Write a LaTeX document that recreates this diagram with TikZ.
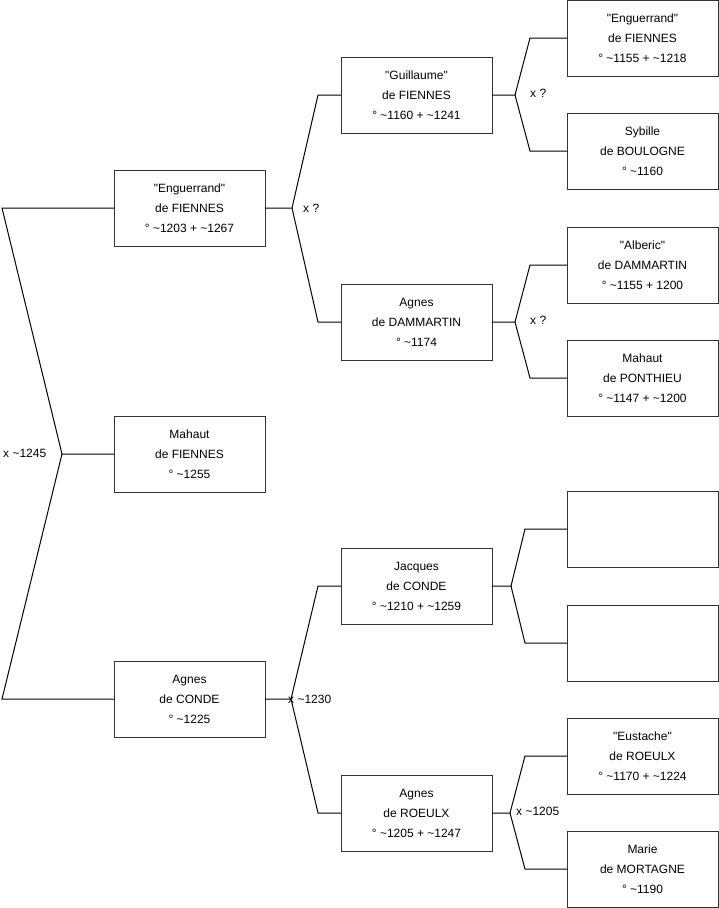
\documentclass[tikz,border=0pt]{standalone}
\usepackage{fontspec}
\setmainfont{Liberation Sans}
\usetikzlibrary{positioning}
\newcommand{\tld}{\textasciitilde}
\newcommand{\qd}{\textquotedbl}

\begin{document}
\begin{tikzpicture}[x=1pt,y=-1pt]
\tikzset{
  pb/.style={rectangle,draw=black!80,fill=white,minimum width=151pt,minimum height=76pt,inner sep=0pt,align=center,font=\fontsize{12}{20}\selectfont},
  ln/.style={draw=black,line width=1pt},
  lb/.style={font=\fontsize{12}{14}\selectfont,inner sep=0pt}
}
\useasboundingbox (0,0) rectangle (719,908);
% generation 1
\node[pb] (engA) at (189.5,208) {\qd Enguerrand\qd\\ de FIENNES\\ ° \tld1203 + \tld1267};
\node[pb] (mahaut) at (189.5,454) {Mahaut\\ de FIENNES\\ ° \tld1255};
\node[pb] (agnesC) at (189.5,699) {Agnes\\ de CONDE\\ ° \tld1225};
% generation 2
\node[pb] (guil) at (416.5,95) {\qd Guillaume\qd\\ de FIENNES\\ ° \tld1160 + \tld1241};
\node[pb] (agnesD) at (416.5,322) {Agnes\\ de DAMMARTIN\\ ° \tld1174};
\node[pb] (jacq) at (416.5,586) {Jacques\\ de CONDE\\ ° \tld1210 + \tld1259};
\node[pb] (agnesR) at (416.5,813) {Agnes\\ de ROEULX\\ ° \tld1205 + \tld1247};
% generation 3
\node[pb] (engB) at (642.5,38) {\qd Enguerrand\qd\\ de FIENNES\\ ° \tld1155 + \tld1218};
\node[pb] (sybil) at (642.5,151) {Sybille\\ de BOULOGNE\\ ° \tld1160};
\node[pb] (alber) at (642.5,265) {\qd Alberic\qd\\ de DAMMARTIN\\ ° \tld1155 + 1200};
\node[pb] (mahautP) at (642.5,378) {Mahaut\\ de PONTHIEU\\ ° \tld1147 + \tld1200};
\node[pb] (empA) at (642.5,529) {};
\node[pb] (empB) at (642.5,643) {};
\node[pb] (eust) at (642.5,756) {\qd Eustache\qd\\ de ROEULX\\ ° \tld1170 + \tld1224};
\node[pb] (marie) at (642.5,869) {Marie\\ de MORTAGNE\\ ° \tld1190};
% couples
\coordinate (j1) at (62,454); \coordinate (t1) at (2,208); \coordinate (b1) at (2,699);
\draw[ln] (mahaut.west) -- (j1) -- (t1) -- (engA.west);
\draw[ln] (j1) -- (b1) -- (agnesC.west);
\node[lb,anchor=west] (x1) at (3,453) {x \tld1245};

\coordinate (j2) at (292,208); \coordinate (t2) at (318,95); \coordinate (b2) at (318,322);
\draw[ln] (engA.east) -- (j2) -- (t2) -- (guil.west);
\draw[ln] (j2) -- (b2) -- (agnesD.west);
\node[lb,anchor=west] (x2) at (303,208) {x ?};

\coordinate (j3) at (291,699); \coordinate (t3) at (318,586); \coordinate (b3) at (318,813);
\draw[ln] (agnesC.east) -- (j3) -- (t3) -- (jacq.west);
\draw[ln] (j3) -- (b3) -- (agnesR.west);
\node[lb,anchor=west] (x3) at (288,699) {x \tld1230};

\coordinate (j4) at (515,95); \coordinate (t4) at (530,38); \coordinate (b4) at (530,151);
\draw[ln] (guil.east) -- (j4) -- (t4) -- (engB.west);
\draw[ln] (j4) -- (b4) -- (sybil.west);
\node[lb,anchor=west] (x4) at (530,93) {x ?};

\coordinate (j5) at (515,322); \coordinate (t5) at (530,265); \coordinate (b5) at (530,378);
\draw[ln] (agnesD.east) -- (j5) -- (t5) -- (alber.west);
\draw[ln] (j5) -- (b5) -- (mahautP.west);
\node[lb,anchor=west] (x5) at (530,320) {x ?};

\coordinate (j6) at (511,586); \coordinate (t6) at (525,529); \coordinate (b6) at (525,643);
\draw[ln] (jacq.east) -- (j6) -- (t6) -- (empA.west);
\draw[ln] (j6) -- (b6) -- (empB.west);

\coordinate (j7) at (510,813); \coordinate (t7) at (525,756); \coordinate (b7) at (525,869);
\draw[ln] (agnesR.east) -- (j7) -- (t7) -- (eust.west);
\draw[ln] (j7) -- (b7) -- (marie.west);
\node[lb,anchor=west] (x7) at (516,811) {x \tld1205};
\end{tikzpicture}
\end{document}
